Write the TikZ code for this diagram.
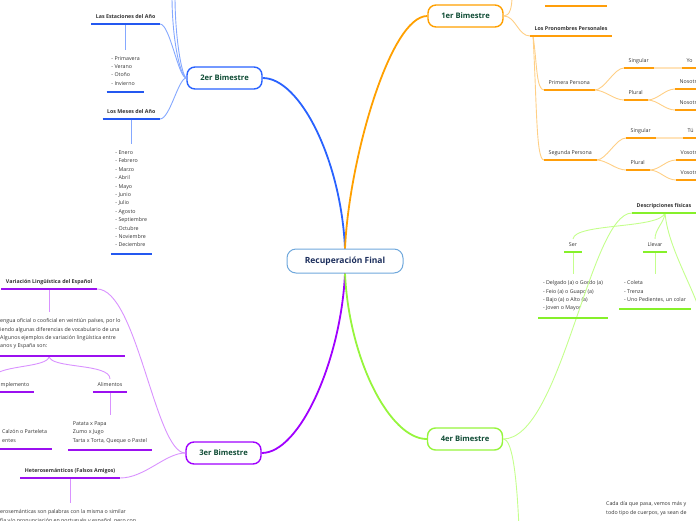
\documentclass[tikz,border=0pt]{standalone}
\usepackage{fontspec}
\setmainfont{Open Sans}
\usepackage{xcolor}
\usetikzlibrary{positioning}

\definecolor{rootline}{HTML}{6FA8DC}
\definecolor{roottext}{HTML}{1C2E5C}
\definecolor{bimtext}{HTML}{0F4C35}
\definecolor{lblgray}{HTML}{333333}
\definecolor{blueA}{HTML}{2962FF}
\definecolor{blueB}{HTML}{2458F0}
\definecolor{blueC}{HTML}{85A8FF}
\definecolor{orA}{HTML}{FFA000}
\definecolor{orB}{HTML}{FF9E0A}
\definecolor{orC}{HTML}{FFCF85}
\definecolor{orD}{HTML}{FFE3BA}
\definecolor{puA}{HTML}{A000FF}
\definecolor{puB}{HTML}{9B10F0}
\definecolor{puC}{HTML}{D992FF}
\definecolor{grA}{HTML}{96F53C}
\definecolor{grB}{HTML}{86F02A}
\definecolor{grC}{HTML}{C4FF8C}

\begin{document}
\begin{tikzpicture}[x=1pt, y=-1pt,
  root/.style={draw=rootline, line width=1pt, rounded corners=9pt, fill=white, minimum width=116pt, minimum height=24pt, font=\fontsize{8.5}{10}\selectfont\bfseries, text=roottext},
  bim/.style={draw=#1, line width=1.4pt, rounded corners=8pt, fill=white, minimum width=75pt, minimum height=22pt, font=\fontsize{7.6}{9}\selectfont\bfseries, text=bimtext},
  txt/.style={text=lblgray, font=\fontsize{5.3}{8.4}\selectfont, inner xsep=4.5pt, inner ysep=3.5pt},
  items/.style={txt, align=left, inner ysep=6.5pt},
  sub/.style={txt, text height=4.2pt, text depth=1.5pt},
  topic/.style={sub, font=\fontsize{5.3}{8.4}\selectfont\bfseries},
  link/.style={draw=#1, line width=0.9pt},
  trunk/.style={draw=#1, line width=1.8pt},
  uline/.style={draw=#1, line width=1.8pt},
  pale/.style={draw=orD, line width=1.8pt}
]
\useasboundingbox (0,0) rectangle (696,520);

% centro y bimestres
\node[root] (root) at (345,261) {Recuperación Final};
\node[bim=blueA] (b2) at (224.5,78) {2er Bimestre};
\node[bim=orA] (b1) at (465.5,16) {1er Bimestre};
\node[bim=puA] (b3) at (223.5,453) {3er Bimestre};
\node[bim=grA] (b4) at (465,439) {4er Bimestre};

\draw[trunk=blueA] (root.north) .. controls (341,160) and (300,78) .. (b2.east);
\draw[trunk=orA] (root.north) .. controls (349,160) and (390,16) .. (b1.west);
\draw[trunk=puA] (root.south) .. controls (341,360) and (300,453) .. (b3.east);
\draw[trunk=grA] (root.south) .. controls (349,360) and (390,439) .. (b4.west);

% 2er Bimestre
\node[topic, anchor=south east] (est) at (160,24) {Las Estaciones del Año};
\node[items, below=25.5pt of est] (estl) {- Primavera\\- Verano\\- Otoño\\- Invierno};
\node[topic, anchor=south east] (mes) at (160,119) {Los Meses del Año};
\node[items, below=25pt of mes] (mesl) {- Enero\\- Febrero\\- Marzo\\- Abril\\- Mayo\\- Junio\\- Julio\\- Agosto\\- Septiembre\\- Octubre\\- Noviembre\\- Deciembre};
\coordinate (up1) at (172,-4);
\coordinate (up2) at (175,-4);
\draw[link=blueC] (b2.west) .. controls +(-8,0) and +(10,0) .. (est.south east);
\draw[link=blueC] (b2.west) .. controls +(-8,0) and +(10,0) .. (mes.south east);
\draw[link=blueC] (b2.west) .. controls +(-7,-3) and +(0,40) .. (up1);
\draw[link=blueC] (b2.west) .. controls +(-5,-3) and +(0,40) .. (up2);
\draw[link=blueC] (est) -- (estl);
\draw[link=blueC] (mes) -- (mesl);

% 1er Bimestre
\node[sub, anchor=south west, minimum width=62pt] (prev) at (545,6) {};
\node[topic, anchor=south west] (pron) at (530,36) {Los Pronombres Personales};
\node[sub, anchor=south west] (prim) at (544,90) {Primera Persona};
\node[sub, anchor=south west] (seg) at (544,160) {Segunda Persona};
\node[sub, anchor=south west] (sg1) at (624,68) {Singular};
\node[sub, anchor=south west] (pl1) at (624,100) {Plural};
\node[sub, anchor=south west] (yo) at (682,68) {Yo};
\node[sub, anchor=south west] (nos1) at (675,89) {Nosotros};
\node[sub, anchor=south west] (nos2) at (675,110) {Nosotras};
\node[sub, anchor=south west] (sg2) at (626,138) {Singular};
\node[sub, anchor=south west] (pl2) at (626,170) {Plural};
\node[sub, anchor=south west] (tu) at (683,138) {Tú};
\node[sub, anchor=south west] (vos1) at (676,160) {Vosotros};
\node[sub, anchor=south west] (vos2) at (676,180) {Vosotras};
\coordinate (up3) at (512,-4);
\draw[link=orC] (b1.east) .. controls +(6,0) and +(0,12) .. (up3);
\draw[link=orC] (b1.east) .. controls +(12,0) and +(-12,0) .. (pron.south west);
\draw[link=orC] ([xshift=3pt]pron.south west) .. controls +(4,25) and +(-8,0) .. (prim.south west);
\draw[link=orC] ([xshift=3pt]pron.south west) .. controls +(4,70) and +(-8,0) .. (seg.south west);
\draw[link=orC] (prim.south east) .. controls +(10,0) and +(-10,0) .. (sg1.south west);
\draw[link=orC] (prim.south east) .. controls +(10,0) and +(-10,0) .. (pl1.south west);
\draw[link=orC] (pl1.south east) .. controls +(10,0) and +(-10,0) .. (nos1.south west);
\draw[link=orC] (pl1.south east) .. controls +(10,0) and +(-10,0) .. (nos2.south west);
\draw[link=orC] (seg.south east) .. controls +(10,0) and +(-10,0) .. (sg2.south west);
\draw[link=orC] (seg.south east) .. controls +(10,0) and +(-10,0) .. (pl2.south west);
\draw[link=orC] (pl2.south east) .. controls +(10,0) and +(-10,0) .. (vos1.south west);
\draw[link=orC] (pl2.south east) .. controls +(10,0) and +(-10,0) .. (vos2.south west);
\draw[pale] (sg1.south east) -- (yo.south west);
\draw[pale] (sg2.south east) -- (tu.south west);

% 3er Bimestre
\node[topic, anchor=south east] (var) at (97,289) {Variación Lingüística del Español};
\node[items, anchor=north west] (par) at (-4.5,312) {engua oficial o cooficial en veintiún países, por lo\\iendo algunas diferencias de vocabulario de una\\Algunos ejemplos de variación lingüística entre\\anos y España son:};
\node[sub, anchor=south east] (comp) at (34,392) {mplemento};
\node[sub, anchor=south] (ali) at (110,392) {Alimentos};
\node[items, below=23pt of ali] (alil) {Patata x Papa\\Zumo x Jugo\\Tarta x Torta, Queque o Pastel};
\node[items, anchor=south west] (calz) at (-2.5,449) {Calzón o Parteleta\\entes};
\node[topic, anchor=south east] (het) at (120,478) {Heterosemánticos (Falsos Amigos)};
\node[items, anchor=north west] (hetl) at (-4.5,503) {erosemánticas son palabras con la misma o similar\\fía y/o pronunciación en portugués y español, pero con};
\coordinate (compup) at (-8,380);
\draw[link=puC] (b3.west) .. controls +(-30,0) and +(40,0) .. (var.south east);
\draw[link=puC] (b3.west) .. controls +(-20,0) and +(25,0) .. (het.south east);
\draw[link=puC] (var) -- (var |- par.north);
\draw[link=puC] (par.south -| var) .. controls +(0,13) and +(0,-16) .. (ali.north);
\draw[link=puC] (par.south -| var) .. controls +(0,13) and +(0,-16) .. (compup);
\draw[link=puC] (ali) -- (alil);
\draw[link=puC] (het) -- (het |- hetl.north);

% 4er Bimestre
\node[topic, anchor=south west] (desc) at (632,213) {Descripciones físicas};
\node[sub, anchor=south] (ser) at (573,252) {Ser};
\node[sub, anchor=south] (lle) at (655,252) {Llevar};
\node[items, below=22pt of ser] (serl) {- Delgado (a) o Gordo (a)\\- Feio (a) o Guapo (a)\\- Bajo (a) o Alto (a)\\- Joven o Mayor};
\node[items, below=22pt of lle] (llel) {- Coleta\\- Trenza\\- Uno Pedientes, un colar};
\node[items, anchor=north west] (cada) at (601.5,495) {Cada día que pasa, vemos más y\\todo tipo de cuerpos, ya sean de};
\coordinate (down4) at (519,528);
\coordinate (rt4) at (702,318);
\draw[link=grC] (b4.east) .. controls +(58,0) and +(-42,0) .. (desc.south west);
\draw[link=grC] (b4.east) .. controls +(10,0) and +(-2,-45) .. (down4);
\draw[link=grC] ([xshift=33pt]desc.south west) .. controls +(-5,16) and +(2,-16) .. (ser.north);
\draw[link=grC] ([xshift=33pt]desc.south west) .. controls +(-1,10) and +(0,-10) .. (lle.north);
\draw[link=grC] ([xshift=33pt]desc.south west) .. controls +(3,35) and +(-8,-30) .. (rt4);
\draw[link=grC] (ser) -- (serl);
\draw[link=grC] (lle) -- (llel);

% subrayados
\foreach \n/\c in {est/blueB, estl/blueB, mes/blueB, mesl/blueB,
    prev/orB, pron/orB, prim/orB, seg/orB, sg1/orB, pl1/orB, yo/orB, nos1/orB, nos2/orB,
    sg2/orB, pl2/orB, tu/orB, vos1/orB, vos2/orB,
    var/puB, par/puB, comp/puB, ali/puB, alil/puB, calz/puB, het/puB,
    desc/grB, ser/grB, lle/grB, serl/grB, llel/grB}
  \draw[uline=\c] (\n.south west) -- (\n.south east);
\end{tikzpicture}
\end{document}
